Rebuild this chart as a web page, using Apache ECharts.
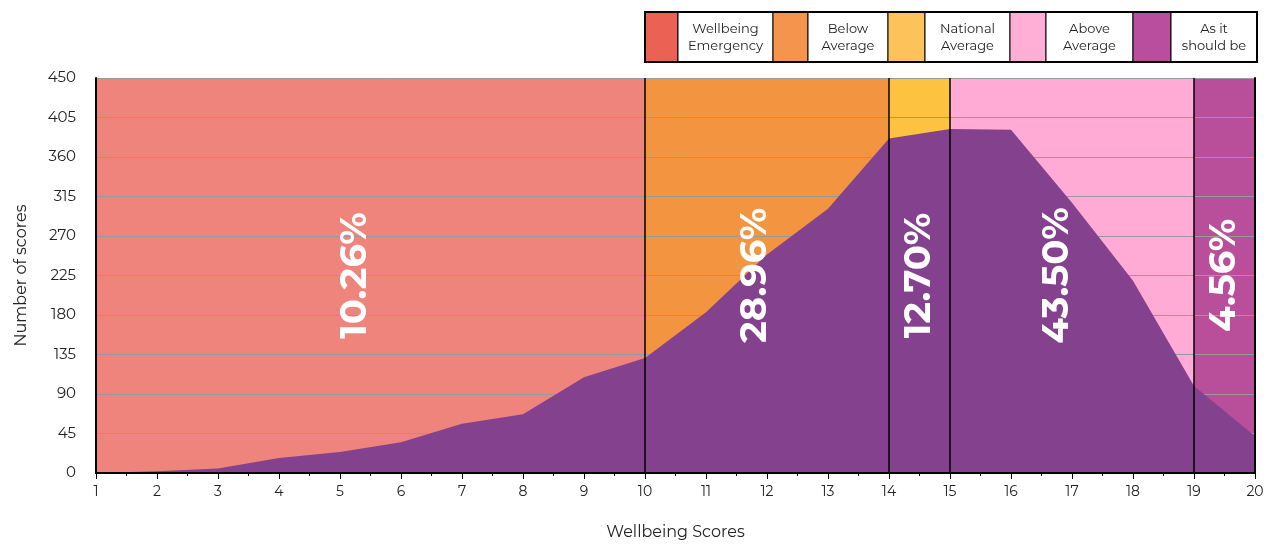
<!DOCTYPE html>
<html><head><meta charset="utf-8">
<script src="https://cdn.jsdelivr.net/npm/echarts@6/dist/echarts.min.js"></script>
<style>html,body{margin:0;padding:0;background:#fff}#c{width:1273px;height:545px}</style>
</head><body><div id="c"></div>
<script>
const scores = [1,2,3,4,5,6,7,8,9,10,11,12,13,14,15,16,17,18,19,20];
const counts = [0,2,5,17,24,35,56,67,109,131,183,249,301,381,392,391,308,219,99,42];
const bandNames = ['Wellbeing\nEmergency','Below\nAverage','National\nAverage','Above\nAverage','As it\nshould be'];
const bandStart = [1,10,14,15,19];
const bandEnd = [10,14,15,19,20];
const bandColors = ['#EE847B','#F39440','#FDC23F','#FFABD5','#B94E9B'];
const legendColors = ['#EB6154','#F4944D','#FDC35A','#FFAED6','#B94E9E'];
const pctLabels = ['10.26%','28.96%','12.70%','43.50%','4.56%'];
const pctX = [5.25,11.8,14.5,16.75,19.5];
const pctY = 225;
const dividers = [10,14,15,19];
const yTicks = {min:0,max:450,interval:45};

const FONT = 'Montserrat, "Noto Sans", sans-serif';
const chart = echarts.init(document.getElementById('c'));

// legend graphic (table-like box)
const cellEdges = [645,678,773,808,888,925,1010,1046,1133,1171,1257];
const legTop = 12, legH = 50;
const legendEls = [];
for (let i=0;i<5;i++){
  const sx = cellEdges[2*i], tx = cellEdges[2*i+1], ex = cellEdges[2*i+2];
  legendEls.push({type:'rect',shape:{x:sx,y:legTop,width:tx-sx,height:legH},style:{fill:legendColors[i],stroke:'#000',lineWidth:1}});
  legendEls.push({type:'rect',shape:{x:tx,y:legTop,width:ex-tx,height:legH},style:{fill:'#fff',stroke:'#000',lineWidth:1}});
  legendEls.push({type:'text',x:(tx+ex)/2,y:legTop+legH/2+1,style:{text:bandNames[i],fill:'#222',font:'13px '+FONT,align:'center',verticalAlign:'middle',lineHeight:17}});
}
legendEls.push({type:'rect',shape:{x:cellEdges[0],y:legTop,width:cellEdges[10]-cellEdges[0],height:legH},style:{fill:'none',stroke:'#000',lineWidth:2}});

const option = {
  animation:false,
  backgroundColor:'#fff',
  grid:{left:96,right:18,top:78,bottom:67},
  xAxis:[{
    type:'value',min:1,max:20,interval:1,z:5,
    name:'Wellbeing Scores',nameLocation:'middle',nameGap:51,
    nameTextStyle:{fontSize:16,color:'#222',fontFamily:FONT},
    axisLine:{lineStyle:{color:'#000',width:2}},
    axisTick:{show:true,length:6,lineStyle:{color:'#000'}},
    minorTick:{show:true,splitNumber:2,length:3,lineStyle:{color:'#000'}},
    axisLabel:{fontSize:14,color:'#222',fontFamily:FONT,margin:12},
    splitLine:{show:false}
  },{
    type:'value',min:1,max:20,position:'top',z:5,
    axisLine:{show:true,lineStyle:{color:'#000',width:2}},
    axisTick:{show:false},axisLabel:{show:false},splitLine:{show:false}
  }],
  yAxis:[{
    type:'value',min:yTicks.min,max:yTicks.max,interval:yTicks.interval,z:2,
    name:'Number of scores',nameLocation:'middle',nameGap:67,
    nameTextStyle:{fontSize:16,color:'#222',fontFamily:FONT},
    axisLine:{show:true,lineStyle:{color:'#000',width:2}},
    axisTick:{show:false},
    axisLabel:{fontSize:15,color:'#222',fontFamily:FONT,margin:20},
    splitLine:{show:true,lineStyle:{color:'#999',width:1}}
  },{
    type:'value',min:yTicks.min,max:yTicks.max,position:'right',z:5,
    axisLine:{show:true,lineStyle:{color:'#000',width:2}},
    axisTick:{show:false},axisLabel:{show:false},splitLine:{show:false}
  }],
  graphic:legendEls,
  series:[
    {
      type:'line',z:1,data:[],silent:true,
      markArea:{silent:true,label:{show:false},
        data:bandStart.map((s,i)=>[{xAxis:s,itemStyle:{color:bandColors[i],opacity:1}},{xAxis:bandEnd[i],yAxis:450}])
      }
    },
    {
      type:'line',z:3,data:scores.map((s,i)=>[s,counts[i]]),
      symbol:'none',lineStyle:{width:0},
      areaStyle:{color:'#84418E',opacity:1},
      markLine:{silent:true,symbol:'none',label:{show:false},
        lineStyle:{color:'#000',width:1.5,type:'solid'},
        data:dividers.map(d=>({xAxis:d}))}
    },
    {
      type:'scatter',z:6,symbolSize:0,itemStyle:{opacity:1},
      data:pctX.map((x,i)=>({value:[x,pctY],label:{formatter:pctLabels[i]}})),
      label:{show:true,position:'inside',rotate:90,color:'#fff',opacity:1,fontSize:37,fontWeight:'bold',fontFamily:FONT}
    }
  ]
};
chart.setOption(option);
</script>
</body></html>
